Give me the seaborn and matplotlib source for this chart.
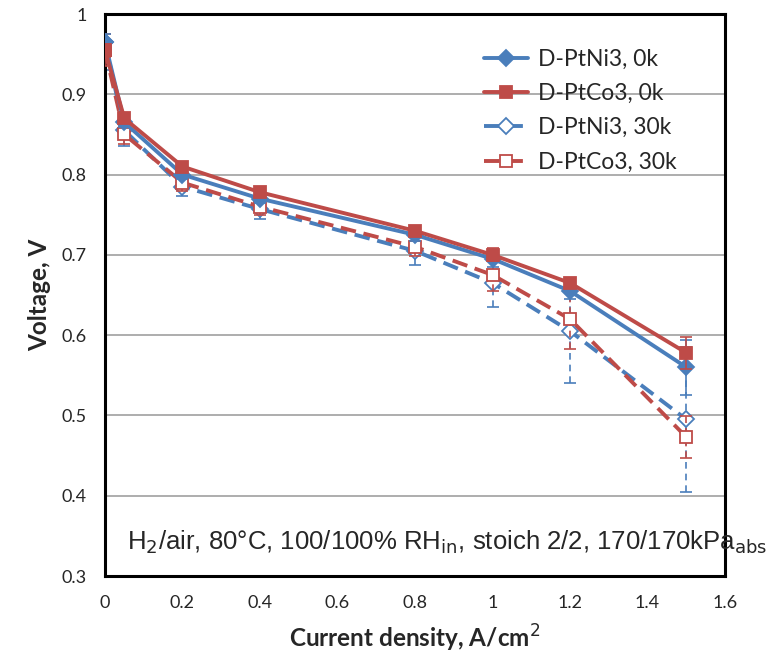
import matplotlib
matplotlib.use("Agg")
import matplotlib.pyplot as plt
import numpy as np
import pandas as pd
import seaborn as sns

# current density, A/cm2
current = [0, 0.05, 0.2, 0.4, 0.8, 1.0, 1.2, 1.5]

ni_0k = [0.965, 0.865, 0.800, 0.770, 0.725, 0.695, 0.655, 0.560]
co_0k = [0.955, 0.870, 0.810, 0.778, 0.730, 0.700, 0.665, 0.578]
ni_30k = [0.965, 0.855, 0.785, 0.757, 0.705, 0.665, 0.605, 0.495]
co_30k = [0.955, 0.850, 0.790, 0.760, 0.710, 0.675, 0.620, 0.473]

ni_0k_err = [0.010, 0.006, 0.006, 0.006, 0.008, 0.010, 0.010, 0.034]
co_0k_err = [0.008, 0.006, 0.006, 0.006, 0.006, 0.008, 0.006, 0.020]
ni_30k_err = [0.035, 0.020, 0.012, 0.012, 0.018, 0.030, 0.065, 0.090]
co_30k_err = [0.020, 0.012, 0.010, 0.010, 0.012, 0.020, 0.037, 0.026]

labels = ['D-PtNi3, 0k', 'D-PtCo3, 0k', 'D-PtNi3, 30k', 'D-PtCo3, 30k']

blue = '#4a7ebb'
red = '#be4b48'

sns.set_style("white")
plt.rcParams['font.family'] = ['Lato', 'DejaVu Sans']

fig = plt.figure(figsize=(7.73, 6.55), dpi=100)
ax = fig.add_axes([0.1358, 0.1206, 0.8022, 0.858])

series = [
    (labels[2], ni_30k, ni_30k_err, blue, 'D', 'none', '--', 2),
    (labels[3], co_30k, co_30k_err, red, 's', 'none', '--', 3),
    (labels[0], ni_0k, ni_0k_err, blue, 'D', blue, '-', 4),
    (labels[1], co_0k, co_0k_err, red, 's', red, '-', 5),
]

for name, vals, err, col, mk, fc, ls, z in series:
    df = pd.DataFrame({'x': current, 'y': vals})
    eb = ax.errorbar(current, vals, yerr=err, fmt='none', ecolor=col,
                     elinewidth=1.2, capsize=4, capthick=1.2, zorder=z)
    if ls == '--':
        eb[2][0].set_linestyle((0, (4, 3)))
    line_ax = sns.lineplot(data=df, x='x', y='y', ax=ax, color=col,
                           linewidth=2.8, marker=mk,
                           markersize=8 if mk == 'D' else 9,
                           markerfacecolor='white' if fc == 'none' else fc,
                           markeredgecolor=col, markeredgewidth=1.3,
                           label=name, zorder=z)
    if ls == '--':
        line_ax.lines[-1].set_dashes((4, 2))

ax.set_xlim(0, 1.6)
ax.set_ylim(0.3, 1.0)
ax.set_xticks(np.arange(0, 1.61, 0.2))
ax.set_xticklabels(['0', '0.2', '0.4', '0.6', '0.8', '1', '1.2', '1.4', '1.6'])
ax.set_yticks(np.arange(0.3, 1.01, 0.1))
ax.set_yticklabels(['0.3', '0.4', '0.5', '0.6', '0.7', '0.8', '0.9', '1'])
ax.yaxis.grid(True, color='#a0a0a0', linewidth=1.2)
ax.xaxis.grid(False)
ax.set_axisbelow(True)
for sp in ax.spines.values():
    sp.set_color('black')
    sp.set_linewidth(2.2)
ax.tick_params(axis='both', which='both', direction='out', length=6,
               width=1.8, color='black', labelsize=13, pad=8)
ax.tick_params(axis='y', length=5)

ax.set_xlabel('Current density, A/cm$^2$', fontsize=17.5, fontweight='bold',
              labelpad=8)
ax.set_ylabel('Voltage, V', fontsize=17.5, fontweight='bold', labelpad=8)

handles, lbls = ax.get_legend_handles_labels()
order = [lbls.index(l) for l in labels]
ax.legend([handles[i] for i in order], labels, loc='upper right',
          bbox_to_anchor=(0.955, 0.975), frameon=False, fontsize=16.5,
          handlelength=1.9, labelspacing=0.58, handletextpad=0.45)

ax.text(0.035, 0.035,
        'H$_2$/air, 80°C, 100/100% RH$_{\\rm in}$, stoich 2/2, 170/170kPa$_{\\rm abs}$',
        transform=ax.transAxes, fontsize=18.5, family='Liberation Sans',
        ha='left', va='bottom', zorder=10)

plt.savefig('out.png', dpi=100)
